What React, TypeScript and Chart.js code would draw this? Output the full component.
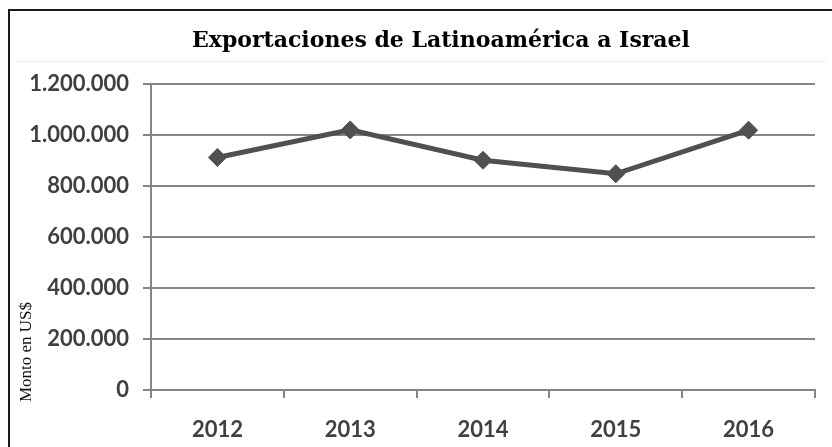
import React, { useEffect, useRef } from 'react';
import { Chart, registerables } from 'chart.js';

Chart.register(...registerables);

const categories = ['2012', '2013', '2014', '2015', '2016'];
const exportValues = [912000, 1020000, 901000, 848000, 1019000];
const yTickValues = [0, 200000, 400000, 600000, 800000, 1000000, 1200000];
const yTickLabels = ['0', '200.000', '400.000', '600.000', '800.000', '1.000.000', '1.200.000'];
const titleText = 'Exportaciones de Latinoamérica a Israel';
const yAxisLabel = 'Monto en US$';

const W = 832;
const H = 447;

const framePlugin = {
  id: 'frame',
  beforeDraw(chart: any) {
    const ctx = chart.ctx;
    ctx.save();
    ctx.fillStyle = '#ffffff';
    ctx.fillRect(0, 0, W, H);
    // outer frame
    ctx.strokeStyle = '#1a1a1a';
    ctx.lineWidth = 2;
    ctx.beginPath();
    ctx.moveTo(9, H);
    ctx.lineTo(9, 10);
    ctx.lineTo(W, 10);
    ctx.stroke();
    // title separator
    ctx.strokeStyle = '#ececec';
    ctx.lineWidth = 1;
    ctx.beginPath();
    ctx.moveTo(16, 61.5);
    ctx.lineTo(826, 61.5);
    ctx.stroke();
    // title
    ctx.fillStyle = '#000000';
    ctx.font = 'bold 22px "DejaVu Serif"';
    ctx.textAlign = 'center';
    ctx.textBaseline = 'alphabetic';
    ctx.fillText(titleText, 441, 47);
    // y axis label
    ctx.translate(27, 352);
    ctx.rotate(-Math.PI / 2);
    ctx.font = '17px "Liberation Serif"';
    ctx.textBaseline = 'middle';
    ctx.fillStyle = '#111111';
    ctx.fillText(yAxisLabel, 0, 0);
    ctx.restore();
  },
};

export default function App() {
  const ref = useRef<HTMLCanvasElement | null>(null);

  useEffect(() => {
    document.body.style.margin = '0';
    document.body.style.overflow = 'hidden';
    const canvas = ref.current;
    if (!canvas) return;
    const gridColor = '#858585';
    const tickFont = { family: 'Lato', size: 22, weight: 'bold' as const };
    const chart = new Chart(canvas, {
      type: 'line',
      data: {
        labels: categories,
        datasets: [
          {
            data: exportValues,
            borderColor: '#505050',
            backgroundColor: '#505050',
            borderWidth: 5,
            pointStyle: 'rectRot',
            pointRadius: 9,
            pointBorderWidth: 1,
            pointBackgroundColor: '#505050',
            pointBorderColor: '#505050',
            tension: 0,
          },
        ],
      },
      options: {
        responsive: false,
        animation: false,
        layout: { padding: { top: 84, right: 17, left: 0, bottom: 0 } },
        plugins: {
          legend: { display: false },
          title: { display: false },
          tooltip: { enabled: false },
        },
        scales: {
          x: {
            type: 'category',
            offset: true,
            grid: {
              offset: true,
              drawOnChartArea: false,
              drawTicks: true,
              tickLength: 8,
              color: gridColor,
              lineWidth: 2,
            },
            border: { display: true, color: gridColor, width: 2 },
            ticks: { font: tickFont, color: '#404040', padding: 19, maxRotation: 0 },
            afterFit: (s: any) => {
              s.height = H - 390;
            },
          },
          y: {
            min: 0,
            max: 1200000,
            grid: { color: gridColor, lineWidth: 2, tickLength: 8, drawTicks: true },
            border: { display: true, color: gridColor, width: 2 },
            ticks: {
              stepSize: 200000,
              font: tickFont,
              color: '#404040',
              padding: 14,
              callback: (v: any) => {
                const i = yTickValues.indexOf(Number(v));
                return i >= 0 ? yTickLabels[i] : '';
              },
            },
            afterFit: (s: any) => {
              s.width = 151;
            },
          },
        },
      },
      plugins: [framePlugin],
    });
    return () => chart.destroy();
  }, []);

  return (
    <div style={{ width: W, height: H }}>
      <canvas ref={ref} width={W} height={H} style={{ display: 'block' }} />
    </div>
  );
}
